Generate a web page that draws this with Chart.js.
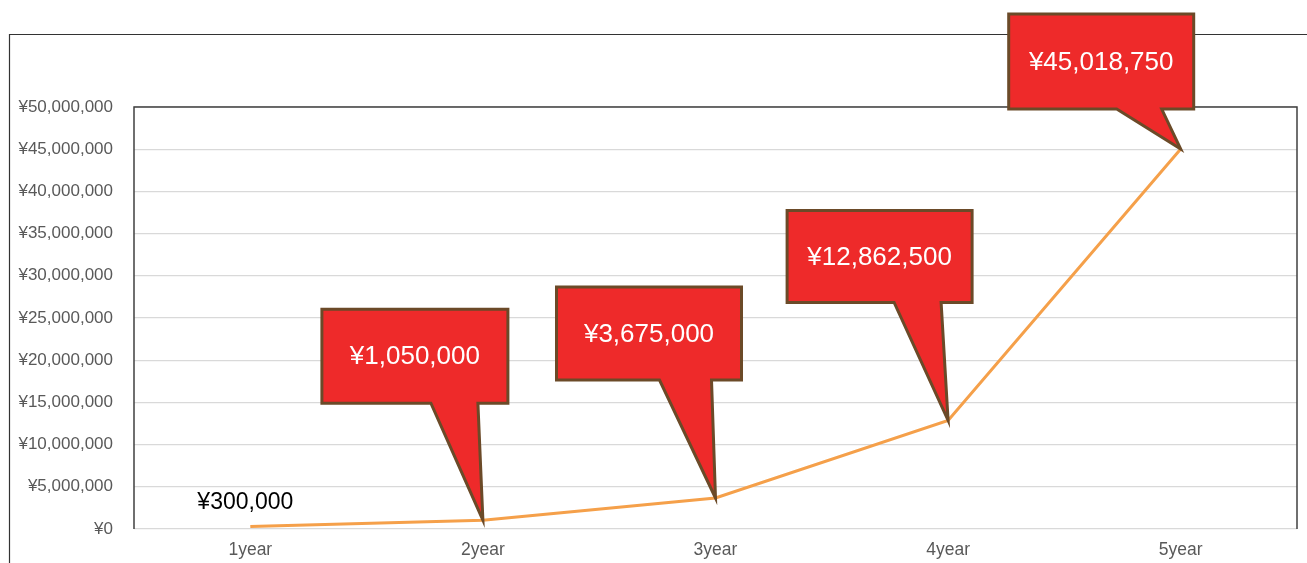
<!DOCTYPE html>
<html>
<head>
<meta charset="utf-8">
<script src="https://cdn.jsdelivr.net/npm/chart.js@4"></script>
<style>
  html, body { margin: 0; padding: 0; background: #fff; }
  #wrap { width: 1307px; height: 563px; position: relative; }
</style>
</head>
<body>
<div id="wrap"><canvas id="chart"></canvas></div>
<script>
// datos
const years = ["1year", "2year", "3year", "4year", "5year"];
const amounts = [300000, 1050000, 3675000, 12862500, 45018750];
const yTicks = [0, 5000000, 10000000, 15000000, 20000000, 25000000, 30000000, 35000000, 40000000, 45000000, 50000000];

const FONT = "'Liberation Sans', Arial, Helvetica, sans-serif";

function yen(v) {
    return "¥" + v.toLocaleString("en-US");
}

// globos: desplazamientos respecto al punto (solo estilo)
const bubbleBox = [
    null,
    { l: -161, r: 25, t: -211, b: -117, bl: -52, br: -5 },
    { l: -159, r: 26, t: -211, b: -118, bl: -56, br: -4 },
    { l: -161, r: 24, t: -210, b: -118, bl: -54, br: -7 },
    { l: -172, r: 13, t: -135, b: -40, bl: -64, br: -19 }
];

const calloutPlugin = {
    id: "callouts",
    afterDatasetsDraw(chart) {
        const ctx = chart.ctx;
        const a = chart.chartArea;
        ctx.save();

        // marco exterior
        ctx.strokeStyle = "#333";
        ctx.lineWidth = 1.2;
        ctx.beginPath();
        ctx.moveTo(9.5, 600);
        ctx.lineTo(9.5, 34.5);
        ctx.lineTo(1400, 34.5);
        ctx.stroke();

        // marco del area de dibujo
        ctx.strokeStyle = "#404040";
        ctx.lineWidth = 1.5;
        ctx.beginPath();
        ctx.moveTo(a.left, a.bottom);
        ctx.lineTo(a.left, a.top);
        ctx.lineTo(a.right, a.top);
        ctx.lineTo(a.right, a.bottom);
        ctx.stroke();

        const pts = chart.getDatasetMeta(0).data;

        // etiqueta simple del primer año
        ctx.fillStyle = "#000";
        ctx.font = "23px " + FONT;
        ctx.textAlign = "center";
        ctx.textBaseline = "middle";
        ctx.fillText(yen(amounts[0]), pts[0].x - 5, pts[0].y - 24);

        // globos rojos
        for (let i = 1; i < pts.length; i++) {
            const b = bubbleBox[i];
            const px = pts[i].x, py = pts[i].y;
            ctx.beginPath();
            ctx.moveTo(px + b.l, py + b.t);
            ctx.lineTo(px + b.r, py + b.t);
            ctx.lineTo(px + b.r, py + b.b);
            ctx.lineTo(px + b.br, py + b.b);
            ctx.lineTo(px, py);
            ctx.lineTo(px + b.bl, py + b.b);
            ctx.lineTo(px + b.l, py + b.b);
            ctx.closePath();
            ctx.fillStyle = "#ee2a2a";
            ctx.fill();
            ctx.lineJoin = "miter";
            ctx.lineWidth = 3;
            ctx.strokeStyle = "#6b4a28";
            ctx.stroke();

            ctx.fillStyle = "#fff";
            ctx.font = "26px " + FONT;
            ctx.fillText(yen(amounts[i]), px + (b.l + b.r) / 2, py + (b.t + b.b) / 2 + 1);
        }
        ctx.restore();
    }
};

new Chart(document.getElementById("chart"), {
    type: "line",
    data: {
        labels: years,
        datasets: [{
            data: amounts,
            borderColor: "#f5a04a",
            borderWidth: 3,
            pointRadius: 0,
            tension: 0,
            fill: false
        }]
    },
    options: {
        responsive: true,
        maintainAspectRatio: false,
        animation: false,
        layout: { padding: { top: 107, right: 10, left: 0, bottom: 0 } },
        plugins: {
            legend: { display: false },
            tooltip: { enabled: false }
        },
        scales: {
            x: {
                offset: true,
                grid: { display: false, drawTicks: false },
                border: { display: false },
                ticks: { color: "#595959", font: { family: FONT, size: 17.5 }, padding: 11 },
                afterFit(scale) { scale.height = 34; }
            },
            y: {
                min: 0,
                max: 50000000,
                afterBuildTicks(scale) { scale.ticks = yTicks.map(v => ({ value: v })); },
                grid: { color: "#d9d9d9", lineWidth: 1.2, drawTicks: false },
                border: { display: false },
                ticks: {
                    color: "#595959",
                    font: { family: FONT, size: 17 },
                    padding: 21,
                    callback: v => yen(v)
                },
                afterFit(scale) { scale.width = 134; }
            }
        }
    },
    plugins: [calloutPlugin]
});
</script>
</body>
</html>
